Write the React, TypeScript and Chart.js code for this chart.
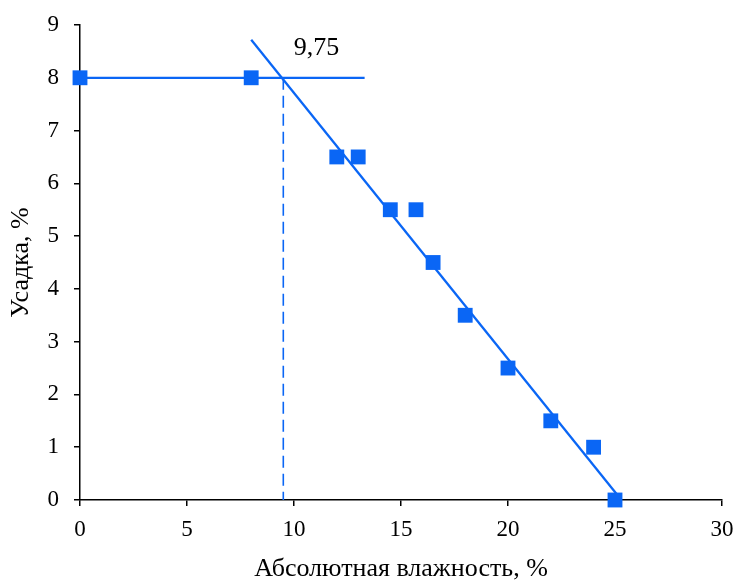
import React, { useEffect, useRef } from "react";
import { Chart, registerables } from "chart.js";

Chart.register(...registerables);

const moistureX = [0, 8, 12, 13, 14.5, 15.7, 16.5, 18, 20, 22, 24, 25];
const shrinkY = [8, 8, 6.5, 6.5, 5.5, 5.5, 4.5, 3.5, 2.5, 1.5, 1, 0];
const plateauX = [0, 13.3];
const plateauY = [8, 8];
const trendX = [8, 25.3];
const trendY = [8.72, 0];
const markX = [9.5, 9.5];
const markY = [8, 0];
const annotationText = "9,75";
const annotationPos = [11.05, 8.56];

const BLUE = "#0a66f5";
const FONT = "'Liberation Serif', 'Times New Roman', serif";

const toPts = (xs: number[], ys: number[]) => xs.map((x, i) => ({ x, y: ys[i] }));

const labelPlugin = {
  id: "label975",
  afterDatasetsDraw(chart: any) {
    const { ctx, scales } = chart;
    const px = scales.x.getPixelForValue(annotationPos[0]);
    const py = scales.y.getPixelForValue(annotationPos[1]);
    ctx.save();
    ctx.font = `26px ${FONT}`;
    ctx.fillStyle = "#000";
    ctx.textAlign = "center";
    ctx.textBaseline = "middle";
    ctx.fillText(annotationText, px, py);
    ctx.restore();
  },
};

export default function App() {
  const ref = useRef<HTMLCanvasElement | null>(null);
  useEffect(() => {
    if (!ref.current) return;
    const chart = new Chart(ref.current, {
      type: "scatter",
      data: {
        datasets: [
          {
            data: toPts(moistureX, shrinkY),
            backgroundColor: BLUE,
            borderColor: BLUE,
            pointStyle: "rect",
            pointRadius: 10.5,
            pointBorderWidth: 0,
            showLine: false,
            clip: false,
          },
          {
            data: toPts(plateauX, plateauY),
            borderColor: BLUE,
            borderWidth: 2.3,
            pointRadius: 0,
            showLine: true,
          },
          {
            data: toPts(trendX, trendY),
            borderColor: BLUE,
            borderWidth: 2.3,
            pointRadius: 0,
            showLine: true,
            clip: false,
          },
          {
            data: toPts(markX, markY),
            borderColor: BLUE,
            borderWidth: 1.6,
            borderDash: [12, 6],
            pointRadius: 0,
            showLine: true,
          },
        ],
      },
      options: {
        animation: false,
        responsive: false,
        maintainAspectRatio: false,
        layout: { padding: { top: 25, right: 12, left: 0, bottom: 0 } },
        plugins: { legend: { display: false }, tooltip: { enabled: false } },
        scales: {
          x: {
            type: "linear",
            min: 0,
            max: 30,
            afterFit: (s: any) => {
              s.height = 83;
              s.paddingRight = 0;
              s.paddingLeft = 0;
            },
            ticks: { stepSize: 5, color: "#000", font: { family: FONT, size: 23 }, padding: 10 },
            grid: { drawOnChartArea: false, tickLength: 6, color: "#000", lineWidth: 1.5 },
            border: { color: "#000", width: 1.5 },
            title: {
              display: true,
              text: "Абсолютная влажность, %",
              color: "#000",
              font: { family: FONT, size: 26 },
              padding: { top: 0, bottom: -2 },
            },
          },
          y: {
            type: "linear",
            min: 0,
            max: 9,
            afterFit: (s: any) => {
              s.width = 80;
              s.paddingTop = 0;
              s.paddingBottom = 0;
            },
            ticks: { stepSize: 1, color: "#000", font: { family: FONT, size: 23 }, padding: 15 },
            grid: { drawOnChartArea: false, tickLength: 6, color: "#000", lineWidth: 1.5 },
            border: { color: "#000", width: 1.5 },
            title: {
              display: true,
              text: "Усадка, %",
              color: "#000",
              font: { family: FONT, size: 26 },
              padding: { top: 6, bottom: 0 },
            },
          },
        },
      },
      plugins: [labelPlugin],
    });
    return () => chart.destroy();
  }, []);
  return (
    <div style={{ position: "fixed", left: 0, top: 0, width: 734, height: 583, background: "#fff" }}>
      <canvas ref={ref} width={734} height={583} style={{ width: 734, height: 583 }} />
    </div>
  );
}
